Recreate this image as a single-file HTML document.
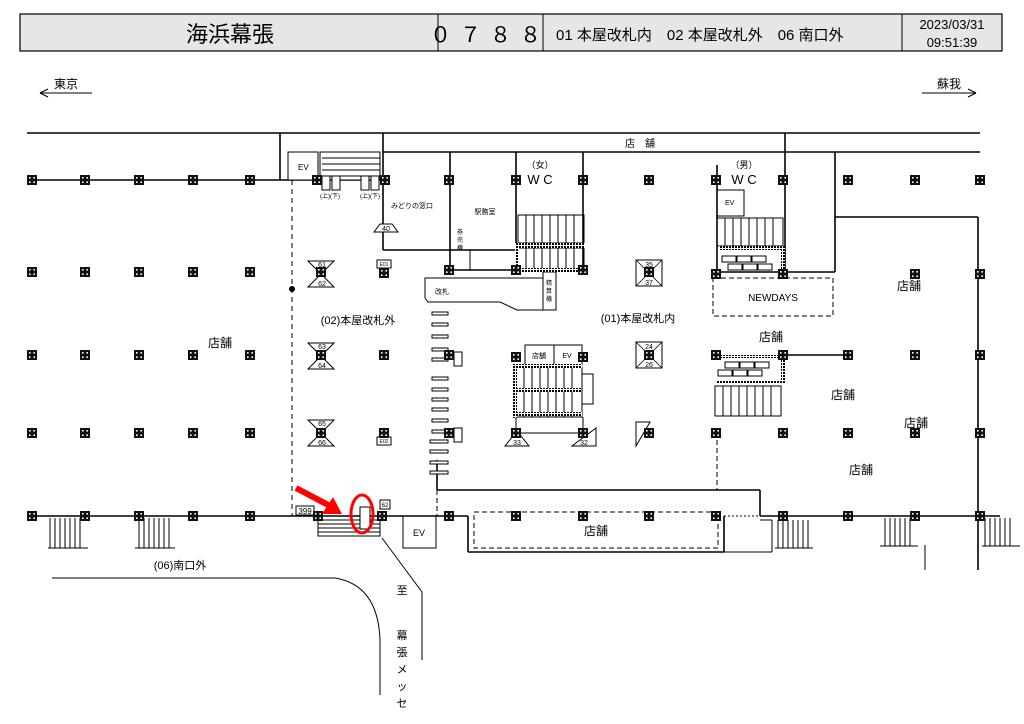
<!DOCTYPE html>
<html><head><meta charset="utf-8"><style>
html,body{margin:0;padding:0;background:#fff;width:1024px;height:724px;overflow:hidden}
svg{display:block}
text{font-family:"Liberation Sans","Noto Sans CJK JP",sans-serif;fill:#000}
</style></head><body>
<svg width="1024" height="724" viewBox="0 0 1024 724" xmlns="http://www.w3.org/2000/svg">
<defs>
<pattern id="cp" width="3" height="3" patternUnits="userSpaceOnUse"><rect width="3" height="3" fill="#fff"/><rect width="2" height="2" fill="#000"/></pattern>
<g id="col"><rect x="-5" y="-5" width="10" height="10" fill="#111"/><rect x="-3" y="-3" width="1.6" height="1.6" fill="#fff"/><rect x="1.4" y="-3" width="1.6" height="1.6" fill="#fff"/><rect x="-3" y="1.4" width="1.6" height="1.6" fill="#fff"/><rect x="1.4" y="1.4" width="1.6" height="1.6" fill="#fff"/></g>
</defs>

<!-- header -->
<rect x="20" y="14" width="982" height="37" fill="#e6e6e6" stroke="#000" stroke-width="1.2"/>
<line x1="438" y1="14" x2="438" y2="51" stroke="#000"/>
<line x1="543" y1="14" x2="543" y2="51" stroke="#000"/>
<line x1="902" y1="14" x2="902" y2="51" stroke="#000"/>
<text x="230" y="42" font-size="22" text-anchor="middle">海浜幕張</text>
<text x="490" y="42" font-size="21" text-anchor="middle" letter-spacing="9">０７８８</text>
<text x="556" y="40" font-size="15">01 本屋改札内　02 本屋改札外　06 南口外</text>
<text x="952" y="29" font-size="13" text-anchor="middle">2023/03/31</text>
<text x="952" y="47" font-size="13" text-anchor="middle">09:51:39</text>

<!-- direction arrows -->
<text x="66" y="88" font-size="12" text-anchor="middle">東京</text>
<path d="M40 93 H92 M40 93 l8 -4 M40 93 l8 4" stroke="#000" fill="none"/>
<text x="949" y="88" font-size="12" text-anchor="middle">蘇我</text>
<path d="M922 93 H976 M976 93 l-8 -4 M976 93 l-8 4" stroke="#000" fill="none"/>

<g stroke="#000" fill="none" stroke-width="1.6">
<line x1="27" y1="133" x2="980" y2="133"/>
<line x1="383" y1="152" x2="980" y2="152"/>
<line x1="280" y1="133" x2="280" y2="180"/>
<line x1="27" y1="180" x2="318" y2="180"/>
<line x1="318" y1="180" x2="383" y2="180"/>
<line x1="383" y1="133" x2="383" y2="250"/>
<line x1="383" y1="250" x2="516" y2="250"/>
<line x1="450" y1="152" x2="450" y2="270"/>
<line x1="516" y1="152" x2="516" y2="272"/>
<line x1="450" y1="270" x2="583" y2="270"/>
<line x1="583" y1="152" x2="583" y2="272"/>
<line x1="717" y1="165" x2="717" y2="272"/>
<line x1="785" y1="133" x2="785" y2="272"/>
<line x1="717" y1="272" x2="785" y2="272"/>
<line x1="835" y1="152" x2="835" y2="272"/>
<line x1="785" y1="272" x2="835" y2="272"/>
<line x1="835" y1="217" x2="978" y2="217"/>
<line x1="978" y1="217" x2="978" y2="570"/>
<line x1="783" y1="355" x2="848" y2="355"/>
<line x1="437" y1="460" x2="437" y2="490"/>
<line x1="437" y1="490" x2="760" y2="490"/>
<line x1="760" y1="490" x2="760" y2="516"/>
<line x1="27" y1="516" x2="380" y2="516"/>
<line x1="380" y1="516" x2="468" y2="516"/>
<line x1="468" y1="516" x2="468" y2="552"/>
<line x1="468" y1="552" x2="724" y2="552"/>
<line x1="724" y1="552" x2="724" y2="516"/>
<line x1="760" y1="516" x2="1000" y2="516"/>
</g>
<g stroke="#000" fill="none" stroke-width="1">
<line x1="724" y1="516" x2="760" y2="516" stroke-dasharray="2,2"/>
<line x1="292" y1="180" x2="292" y2="516" stroke-dasharray="5,4"/>
<line x1="437" y1="490" x2="437" y2="516" stroke-dasharray="5,3"/>
<line x1="717" y1="440" x2="717" y2="490" stroke-dasharray="5,3"/>
<rect x="713" y="278" width="120" height="38" stroke-dasharray="5,3"/>
<rect x="474" y="512" width="244" height="36" stroke-dasharray="5,3"/>
<rect x="288" y="152" width="30" height="28" fill="#fff"/>
<rect x="403" y="516" width="33" height="32"/>
<rect x="717" y="190" width="27" height="26"/>
<rect x="525" y="345" width="29" height="20"/>
<rect x="554" y="345" width="28" height="20"/>
<rect x="450" y="250" width="20" height="20"/>
<rect x="543" y="272" width="13" height="38"/>
<polygon points="425,278 543,278 543,310 517,310 500,302 428,302 425,298"/>
<path d="M52 578 H335 Q378 585 380 640 V695"/>
<path d="M382 538 L422 592 V660"/>
<line x1="760" y1="520" x2="772" y2="520"/>
<line x1="772" y1="520" x2="772" y2="552"/>
<line x1="724" y1="552" x2="772" y2="552"/>
<line x1="925" y1="545" x2="925" y2="570"/>
</g>

<g stroke="#000" stroke-width="1" fill="#fff">
<rect x="320" y="152" width="60" height="28"/>
<line x1="322" y1="158" x2="380" y2="158"/><line x1="322" y1="164" x2="380" y2="164"/><line x1="322" y1="170" x2="380" y2="170"/><line x1="322" y1="176" x2="380" y2="176"/>
</g>
<g stroke="#000" stroke-width="1" fill="none">
<rect x="518" y="215" width="66" height="28"/>
<path d="M526 215v28M534 215v28M542 215v28M550 215v28M558 215v28M566 215v28M574 215v28"/>
<rect x="518" y="248" width="66" height="22"/>
<path d="M526 248v22M534 248v22M542 248v22M550 248v22M558 248v22M566 248v22M574 248v22"/>
<rect x="717" y="218" width="66" height="28"/>
<path d="M725 218v28M733 218v28M741 218v28M749 218v28M757 218v28M765 218v28M773 218v28"/>
<rect x="516" y="367" width="66" height="50"/>
<path d="M524 367v50M532 367v50M540 367v50M548 367v50M556 367v50M564 367v50M572 367v50"/>
<line x1="516" y1="417" x2="516" y2="433"/><line x1="516" y1="433" x2="583" y2="433"/><line x1="583" y1="417" x2="583" y2="433"/>
<rect x="715" y="386" width="66" height="30"/>
<path d="M723 386v30M731 386v30M739 386v30M747 386v30M755 386v30M763 386v30M771 386v30"/>
<rect x="318" y="516" width="62" height="20"/>
<path d="M318 520h62M318 524h62M318 528h62M318 532h62"/>
<path d="M50 518v30M55 518v30M60 518v30M65 518v30M70 518v30M75 518v30M80 518v30M48 548h40"/>
<path d="M139 518v30M144 518v30M149 518v30M154 518v30M159 518v30M164 518v30M169 518v30M135 548h40"/>
<path d="M778 520v28M783 520v28M788 520v28M793 520v28M798 520v28M803 520v28M808 520v28M775 548h38"/>
<path d="M885 518v28M890 518v28M895 518v28M900 518v28M905 518v28M910 518v28M880 546h38"/>
<path d="M985 518v28M990 518v28M995 518v28M1000 518v28M1005 518v28M1010 518v28M982 546h38"/>
</g>
<g fill="url(#cp)">
<rect x="515" y="243" width="70" height="5"/><rect x="515" y="243" width="4" height="27"/>
<rect x="515" y="268" width="70" height="4"/>
<rect x="719" y="246" width="64" height="4"/><rect x="781" y="246" width="4" height="26"/>
<rect x="516" y="364" width="66" height="4"/><rect x="516" y="388" width="66" height="4"/><rect x="516" y="412" width="66" height="4"/><rect x="513" y="364" width="4" height="54"/>
<rect x="717" y="355" width="66" height="3"/><rect x="717" y="381" width="66" height="3"/><rect x="781" y="355" width="4" height="29"/>
</g>
<g stroke="#000" fill="#fff" stroke-width="1">
<rect x="432" y="312" width="16" height="3"/><rect x="432" y="323" width="16" height="3"/><rect x="432" y="335" width="16" height="3"/><rect x="432" y="348" width="16" height="3"/><rect x="432" y="358" width="16" height="3"/>
<rect x="432" y="377" width="16" height="3"/><rect x="432" y="388" width="16" height="3"/><rect x="432" y="398" width="16" height="3"/><rect x="432" y="408" width="16" height="3"/><rect x="432" y="419" width="16" height="3"/><rect x="432" y="430" width="16" height="3"/>
<rect x="430" y="440" width="18" height="3"/><rect x="430" y="450" width="18" height="3"/><rect x="430" y="461" width="18" height="3"/><rect x="430" y="471" width="18" height="3"/>
<rect x="322" y="176" width="8" height="14"/><rect x="332" y="176" width="8" height="14"/><rect x="361" y="176" width="8" height="14"/><rect x="371" y="176" width="8" height="14"/>
<rect x="377" y="260" width="14" height="8"/><rect x="377" y="437" width="14" height="8"/>
<rect x="454" y="352" width="8" height="14"/><rect x="454" y="428" width="8" height="14"/>
<rect x="582" y="374" width="11" height="30"/>
<rect x="296" y="506" width="18" height="9"/><rect x="380" y="500" width="10" height="9"/><rect x="360" y="507" width="10" height="22"/>
<rect x="722" y="256" width="14" height="6"/><rect x="737" y="256" width="14" height="6"/><rect x="752" y="256" width="14" height="6"/>
<rect x="728" y="264" width="14" height="6"/><rect x="743" y="264" width="14" height="6"/><rect x="758" y="264" width="14" height="6"/>
<rect x="725" y="362" width="14" height="6"/><rect x="740" y="362" width="14" height="6"/><rect x="755" y="362" width="14" height="6"/>
<rect x="718" y="370" width="14" height="6"/><rect x="733" y="370" width="14" height="6"/><rect x="748" y="370" width="14" height="6"/>
<polygon points="308,261 334,261 308,287 334,287"/>
<polygon points="308,343 334,343 308,369 334,369"/>
<polygon points="308,420 334,420 308,446 334,446"/>
<polygon points="636,260 662,260 662,286 636,286"/>
<polygon points="636,342 662,342 662,368 636,368"/>
<polygon points="374,232 398,232 392,224 380,224"/>
<polygon points="505,446 529,446 521,436 513,436"/>
<polygon points="572,446 596,446 596,428"/>
<polygon points="636,422 650,422 636,446"/>
</g>
<g stroke="#000" stroke-width="0.8" fill="none">
<line x1="636" y1="260" x2="662" y2="286"/><line x1="662" y1="260" x2="636" y2="286"/>
<line x1="636" y1="342" x2="662" y2="368"/><line x1="662" y1="342" x2="636" y2="368"/>
</g>

<g>
<use href="#col" x="32" y="180"/><use href="#col" x="85" y="180"/><use href="#col" x="139" y="180"/><use href="#col" x="193" y="180"/><use href="#col" x="250" y="180"/><use href="#col" x="317" y="180"/><use href="#col" x="385" y="180"/><use href="#col" x="449" y="180"/><use href="#col" x="516" y="180"/><use href="#col" x="583" y="180"/><use href="#col" x="649" y="180"/><use href="#col" x="716" y="180"/><use href="#col" x="783" y="180"/><use href="#col" x="848" y="180"/><use href="#col" x="915" y="180"/><use href="#col" x="980" y="180"/>
<use href="#col" x="32" y="272"/><use href="#col" x="85" y="272"/><use href="#col" x="139" y="272"/><use href="#col" x="193" y="272"/><use href="#col" x="250" y="272"/><use href="#col" x="321" y="272"/><use href="#col" x="384" y="273"/><use href="#col" x="449" y="270"/><use href="#col" x="516" y="270"/><use href="#col" x="583" y="270"/><use href="#col" x="649" y="272"/><use href="#col" x="716" y="274"/><use href="#col" x="783" y="274"/><use href="#col" x="915" y="274"/><use href="#col" x="980" y="274"/>
<use href="#col" x="32" y="355"/><use href="#col" x="85" y="355"/><use href="#col" x="139" y="355"/><use href="#col" x="193" y="355"/><use href="#col" x="250" y="355"/><use href="#col" x="321" y="355"/><use href="#col" x="384" y="355"/><use href="#col" x="449" y="355"/><use href="#col" x="516" y="357"/><use href="#col" x="583" y="357"/><use href="#col" x="649" y="355"/><use href="#col" x="716" y="355"/><use href="#col" x="783" y="355"/><use href="#col" x="848" y="355"/><use href="#col" x="915" y="355"/><use href="#col" x="980" y="355"/>
<use href="#col" x="32" y="433"/><use href="#col" x="85" y="433"/><use href="#col" x="139" y="433"/><use href="#col" x="193" y="433"/><use href="#col" x="250" y="433"/><use href="#col" x="321" y="433"/><use href="#col" x="384" y="433"/><use href="#col" x="449" y="433"/><use href="#col" x="516" y="433"/><use href="#col" x="583" y="433"/><use href="#col" x="649" y="433"/><use href="#col" x="716" y="433"/><use href="#col" x="783" y="433"/><use href="#col" x="848" y="433"/><use href="#col" x="915" y="433"/><use href="#col" x="980" y="433"/>
<use href="#col" x="32" y="516"/><use href="#col" x="85" y="516"/><use href="#col" x="139" y="516"/><use href="#col" x="193" y="516"/><use href="#col" x="250" y="516"/><use href="#col" x="318" y="516"/><use href="#col" x="382" y="516"/><use href="#col" x="449" y="516"/><use href="#col" x="516" y="516"/><use href="#col" x="583" y="516"/><use href="#col" x="649" y="516"/><use href="#col" x="716" y="516"/><use href="#col" x="783" y="516"/><use href="#col" x="848" y="516"/><use href="#col" x="915" y="516"/><use href="#col" x="980" y="516"/>
</g>
<circle cx="292" cy="289" r="3" fill="#000"/>

<g font-size="10">
<text x="298" y="170" font-size="8">EV</text>
<text x="640" y="147" font-size="10" text-anchor="middle">店　舗</text>
<text x="540" y="168" font-size="9" text-anchor="middle">（女）</text>
<text x="540" y="184" font-size="13" text-anchor="middle">W C</text>
<text x="744" y="168" font-size="9" text-anchor="middle">（男）</text>
<text x="744" y="184" font-size="13" text-anchor="middle">W C</text>
<text x="725" y="205" font-size="7">EV</text>
<text x="330" y="198" font-size="6" text-anchor="middle">(上)(下)</text>
<text x="370" y="198" font-size="6" text-anchor="middle">(上)(下)</text>
<text x="412" y="208" font-size="7" text-anchor="middle">みどりの窓口</text>
<text x="485" y="214" font-size="7" text-anchor="middle">駅務室</text>
<text x="386" y="231" font-size="7" text-anchor="middle">40</text>
<text x="460" y="234" font-size="6" text-anchor="middle">券</text><text x="460" y="242" font-size="6" text-anchor="middle">売</text><text x="460" y="250" font-size="6" text-anchor="middle">機</text>
<text x="549" y="285" font-size="6" text-anchor="middle">精</text><text x="549" y="293" font-size="6" text-anchor="middle">算</text><text x="549" y="301" font-size="6" text-anchor="middle">機</text>
<text x="442" y="294" font-size="7" text-anchor="middle">改札</text>
<text x="322" y="267" font-size="7" text-anchor="middle">61</text><text x="322" y="286" font-size="7" text-anchor="middle">62</text>
<text x="322" y="349" font-size="7" text-anchor="middle">63</text><text x="322" y="368" font-size="7" text-anchor="middle">64</text>
<text x="322" y="426" font-size="7" text-anchor="middle">65</text><text x="322" y="445" font-size="7" text-anchor="middle">66</text>
<text x="649" y="267" font-size="7" text-anchor="middle">35</text><text x="649" y="285" font-size="7" text-anchor="middle">37</text>
<text x="649" y="349" font-size="7" text-anchor="middle">24</text><text x="649" y="367" font-size="7" text-anchor="middle">26</text>
<text x="517" y="445" font-size="7" text-anchor="middle">33</text><text x="584" y="445" font-size="7" text-anchor="middle">32</text>
<text x="384" y="266" font-size="5" text-anchor="middle">E01</text><text x="384" y="443" font-size="5" text-anchor="middle">E02</text>
<text x="305" y="514" font-size="8" text-anchor="middle">399</text>
<text x="385" y="507" font-size="6" text-anchor="middle">62</text>
<text x="358" y="324" font-size="11" text-anchor="middle">(02)本屋改札外</text>
<text x="638" y="322" font-size="11" text-anchor="middle">(01)本屋改札内</text>
<text x="539" y="358" font-size="7" text-anchor="middle">店舗</text>
<text x="567" y="358" font-size="7" text-anchor="middle">EV</text>
<text x="773" y="301" font-size="10" text-anchor="middle">NEWDAYS</text>
<text x="220" y="347" font-size="12" text-anchor="middle">店舗</text>
<text x="909" y="290" font-size="12" text-anchor="middle">店舗</text>
<text x="771" y="341" font-size="12" text-anchor="middle">店舗</text>
<text x="843" y="399" font-size="12" text-anchor="middle">店舗</text>
<text x="916" y="427" font-size="12" text-anchor="middle">店舗</text>
<text x="861" y="474" font-size="12" text-anchor="middle">店舗</text>
<text x="596" y="535" font-size="12" text-anchor="middle">店舗</text>
<text x="419" y="536" font-size="9" text-anchor="middle">EV</text>
<text x="180" y="569" font-size="11" text-anchor="middle">(06)南口外</text>
<text x="402" y="594" font-size="11" text-anchor="middle">至</text>
<text x="402" y="639" font-size="11" text-anchor="middle">幕</text>
<text x="402" y="656" font-size="11" text-anchor="middle">張</text>
<text x="402" y="673" font-size="11" text-anchor="middle">メ</text>
<text x="402" y="690" font-size="11" text-anchor="middle">ッ</text>
<text x="402" y="707" font-size="11" text-anchor="middle">セ</text>
</g>

<path d="M296 488 L332 507" stroke="#f00" stroke-width="6" fill="none"/>
<polygon points="342,514 322,514 333,497" fill="#f00"/>
<ellipse cx="362" cy="514" rx="11" ry="19" fill="none" stroke="#f00" stroke-width="3"/>
</svg>
</body></html>
